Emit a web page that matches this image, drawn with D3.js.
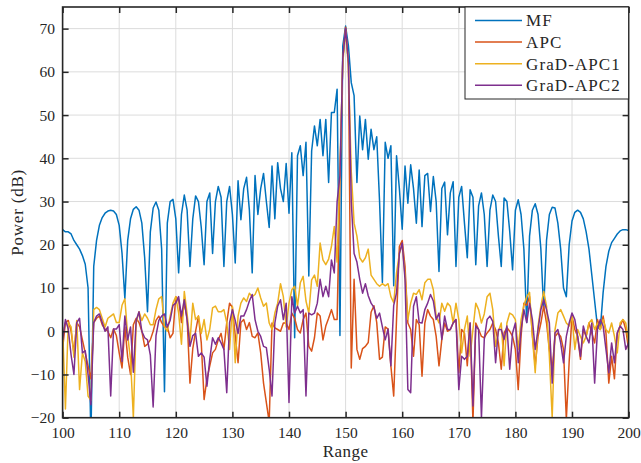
<!DOCTYPE html>
<html>
<head>
<meta charset="utf-8">
<script src="https://cdn.jsdelivr.net/npm/d3@7"></script>
<style>
  body { margin: 0; background: #fff; }
  svg { display: block; font-family: "Liberation Serif", "Times New Roman", serif; }
</style>
</head>
<body>
<div id="chart"></div>
<script>
// range axis is sampled every 0.5 from 100 to 200
const rangeStart = 100;
const rangeStep = 0.5;

const mf = [
  23.5, 23, 23, 22.5, 21, 20, 19, 17.5, 15.5, 10,
  -25, 15, 21, 24.5, 26.3, 27.3, 27.8, 28, 27.8, 27,
  24.5, 18, 7.5, 21, 26, 28.2, 28.8, 28, 25, 17,
  4.5, 23, 28.5, 29.9, 28, 19, -14, 25, 30, 30.5,
  26, 13.5, 27, 31.5, 28, 15, 26, 31.3, 30, 24,
  15.4, 30, 32, 18, 30, 33.5, 31, 15, 30, 33.5,
  27, 15.8, 34.8, 25.8, 33, 35.6, 28, 13.5, 36, 27,
  33, 36.5, 30, 24, 38.2, 26, 39, 33, 30, 38.8,
  27.3, 41.3, -1.5, 40.6, 42.9, 36, 43.7, 12.8, 41.7, 47.5,
  42.9, 49, 40.6, 49, 34.4, 50.6, 50.6, 56, -1, 66,
  70.6, 66, 57.5, 54.5, 34.4, 49.8, 42, 49, 39.8, 46.7,
  42, 45, 30, 11.3, 43.7, 40, 42.9, 10.5, 40.6, 33,
  23.6, 38.2, 29.6, 38.5, 33, 25, 37.3, 24.2, 36, 36.5,
  27.7, 35.8, 30, 13.8, 33, 34.5, 22.3, 32, 34.6, 15,
  31, 33.5, 25, 17, 32.7, 31, 15.4, 29, 32, 27,
  15, 28, 31.5, 30, 22, 15, 30.8, 30, 23, 14.2,
  28, 30.4, 27, 19, 2, 22, 28, 29.5, 27, 19,
  5, 21, 27, 28.7, 28.5, 25, 19, 10, 8, 20,
  25.5, 27.5, 28, 27.5, 26, 23, 19, 13, 7, 1,
  0.5, 9, 15, 18.5, 20.5, 21.5, 22.5, 23.2, 23.5, 23.5,
  23.3
];

const apc = [
  -4, 2, 2.5, 0, -5, 2, 1, -2, -5, -8,
  -11, 2, 3, 3.5, 1.5, 0.5, 0, -1.5, 0.5, -1,
  -5, -8.5, 1, -6, -10, 1.5, 3, 2, 0, -3.5,
  -3, -2, 0, 2.5, 3.5, 2, 1, 1, -1.5, -0.5,
  8, 7.3, 2, 6.5, 3, -12, -4, 0, 3.5, -2.7,
  -15.8, -11, -8, -5, -4.2, -2, -0.5, -4.2, 2, 6.5,
  5.5, -1, -7.3, 2, 2.7, 0.4, 2, -1.2, -1.5, -0.4,
  -5, -12, -16.5, -21, 1.9, 0.8, 0.4, 0, 1.9, 1.9,
  0.4, 4.2, 3, 0.4, -0.4, 2.7, 4.2, -3.5, -4.6, -1.5,
  4.2, 3.5, -2, 1.2, 3, 5, 2.7, 2.7, 35, 63,
  70.3, 62, -8.5, 12, -4.2, -6.5, -4, -3.5, -2.6, 4.4,
  5.9, 2, -6.5, -6, 1, 0.5, -8, -15, 2.8, 19.6,
  21, 15, 1.9, 0.4, -5.8, 2.7, 1.5, -10.4, 1.9, 5,
  3.5, 2.7, -1.2, -8, -1.9, 1.9, 0, 0.4, 1.9, 2.7,
  -9.6, 0.4, -0.4, -8, 1.9, -21, 1.9, 0.4, -1.2, -1.5,
  -0.4, 0.4, 1.9, 0.4, -2.7, -8.8, -0.4, 0.8, 0, -1.2,
  -4.2, -13.5, -1.2, 6.5, 6, 8, -0.8, -8, -1.2, 1.9,
  5.8, 1.9, -4.2, -8.8, -1.2, -0.4, -1.2, -4.2, -20.4, -7,
  3.5, 0.4, -1.2, -6.5, 0.4, -1.2, 1.9, -0.4, -2.7, 2.7,
  0.4, 3.5, -0.4, -12, -5.8, -11, -0.4, 1.2, 2.7, 0.4,
  -4.2
];

const gradApc1 = [
  1, -18, 2, 1, -6, 2.5, -13.5, -5, -7, -15,
  -16, 5, 5.5, 5, 3, 1, 3, 3.5, 4, 2,
  2, 6, 7.5, -1, -6.5, -20, 2, 4.5, 2.5, 4,
  3, 1.5, 1.5, 5, 7.5, 8, 1, 0, 3.5, 6.5,
  8, 4.2, -3, 9.2, 4, -2.5, 6.5, 2.7, 3.5, -0.5,
  2.7, -2, 0.5, 5.4, 5.8, 4.5, 4.5, 5, 2, -4.2,
  5.8, -7.3, 3.5, 6.5, 7.7, 6.9, 8.8, 8, 8.5, 10,
  7.7, 5.8, 6.5, 1.9, 0.4, 4.2, 6.5, 11, 8, 1,
  6.5, 9.6, 10.4, 5.8, 11.2, 12.7, 7, 4.2, 11.9, 13,
  10.4, 20.4, 16.5, 15.4, 16.7, 19.6, 24.2, 16, 38, 62,
  69.5, 61, 37, 25, 22, 17, 16, 17, 19, 13,
  12, 11, 10.4, 11, 10.5, 11, 8, 6.6, 13.5, 18,
  20, 13, 2.7, 6.5, 8.8, 8.5, 9.6, 7.3, 11.2, 12,
  12, 9.6, 3.5, 1.9, 6.5, 4.6, 6.5, 5.8, 1.9, 6.5,
  2.7, -5, 0.4, 3.5, -5.8, 0.4, 6.5, 5, 1.9, 4,
  8, 8.8, 5, -3.5, 0, 1.9, -8, 1.9, 4.2, 3.8,
  2.7, -4.2, 2.7, 6, 8, 9, -1.2, -9.6, 1.2, 5.8,
  9.2, 5.8, -5.8, -20, 0.4, 4.2, 5, 3.5, 1.9, 1.2,
  3.5, -4.2, 0.4, -1.2, -2.7, -1.2, 1.9, 2.7, 0.4, 1.9,
  0.4, 2.7, 0.4, -0.4, 1.9, -1.2, -5, 1.9, 2.7, 1.9,
  -2.7
];

const gradApc2 = [
  -2, 2.7, 0.5, -5.5, -10, 2, 3, -5, -4.5, -10,
  -17, 2, 3.5, 4, 2, 0, 1, -15, 0.5, 0.5,
  1.5, -7, 3.5, -2, 1, -9.5, 2.5, 4.5, 0, -1.5,
  -2, -5.5, -17.5, -1, 2.5, 3.5, 4, 1, 2.5, 6,
  6.5, 8, 3.5, 7.3, 2.5, -3.5, -1, -0.5, -5.8, -5,
  -6, -12.7, -6.5, -1.5, -3, -1.5, -2.7, -4.2, -14.2, 2,
  5, 2.5, -0.5, 3.5, 3.5, 5, 7, 8.5, 2.7, 0,
  -1.2, -3.5, -3.8, -8.8, -15, 1.9, 5.8, 7.3, 2.7, 6.5,
  -16.5, 8, 4.2, 5.8, 4.2, 5, -15, 4.2, 3.8, 4.2,
  6.5, 12, 8, 10.4, 8, 16.5, 13.5, 30, 36, 63,
  70, 62, 30, 18, 16, 12, 8.8, 11, 8.2, 6.5,
  5.5, 3, 4.2, 1, -2, 0.5, -8, 6, 8.9, 18,
  20.4, 12, -13.5, -14.2, 5.8, 8, 2, 1.9, 5, 6.5,
  8.5, 7, 2.7, 4.2, -1.9, 3.5, 0.4, 0.4, 1.9, 2.7,
  -13.5, -5.8, -6.5, -5.8, 1.9, -17.3, 1.2, 0.4, -20, -1.9,
  2.7, 3.5, 2.3, -7.3, 0.4, 0.4, -1.9, 1.2, -8.8, -0.4,
  1.9, -7.3, 0.4, 5, 2, 6.5, 2.7, -4.2, 0.4, 5,
  7.3, 5, 1.9, -12, -0.4, 0.4, -2.7, -7.3, -1.2, 1.9,
  4.2, 2.7, -1.2, -5.8, 1.2, -1.2, -2.7, 1.9, -12, 0.4,
  2.7, 1.2, -4.2, -9.6, -2.7, -7.3, -0.4, 1.2, 0.4, -4.2,
  -2.7
];

const seriesNames = ['MF', 'APC', 'GraD-APC1', 'GraD-APC2'];
const seriesColors = ['#0072BD', '#D95319', '#EDB120', '#7E2F8E'];
const xTicks = [100, 110, 120, 130, 140, 150, 160, 170, 180, 190, 200];
const yTicks = [-20, -10, 0, 10, 20, 30, 40, 50, 60, 70];

const width = 641;
const height = 463;
const margin = { top: 7, right: 12.4, bottom: 45.3, left: 62.6 };
const axisColor = '#262626';

const svg = d3.select('#chart')
  .append('svg')
  .attr('width', width)
  .attr('height', height);

const x = d3.scaleLinear().domain([100, 200]).range([margin.left, width - margin.right]);
const y = d3.scaleLinear().domain([-20, 75]).range([height - margin.bottom, margin.top]);

// gridlines
const grid = svg.append('g').attr('stroke', '#dcdcdc').attr('stroke-width', 1);
grid.selectAll('.gx').data(xTicks).join('line')
  .attr('x1', (d) => x(d)).attr('x2', (d) => x(d))
  .attr('y1', y.range()[0]).attr('y2', y.range()[1]);
grid.selectAll('.gy').data(yTicks).join('line')
  .attr('x1', x.range()[0]).attr('x2', x.range()[1])
  .attr('y1', (d) => y(d)).attr('y2', (d) => y(d));

svg.append('clipPath').attr('id', 'plot-clip')
  .append('rect')
  .attr('x', x.range()[0]).attr('y', y.range()[1])
  .attr('width', x.range()[1] - x.range()[0])
  .attr('height', y.range()[0] - y.range()[1]);

const allSeries = [mf, apc, gradApc1, gradApc2];
const line = d3.line()
  .x((d, i) => x(rangeStart + i * rangeStep))
  .y((d) => y(d));

svg.append('g').attr('clip-path', 'url(#plot-clip)')
  .selectAll('path')
  .data(allSeries)
  .join('path')
  .attr('fill', 'none')
  .attr('stroke', (d, i) => seriesColors[i])
  .attr('stroke-width', 1.5)
  .attr('stroke-linejoin', 'round')
  .attr('d', line);

// axes, ticks pointing inward on all four sides
const styleAxis = (g) => {
  g.select('.domain').remove();
  g.selectAll('.tick line').attr('stroke', axisColor).attr('stroke-width', 1.5);
  g.selectAll('.tick text').attr('fill', axisColor).attr('font-size', '15.5px')
    .attr('font-family', '"Liberation Serif", serif');
};

svg.append('g')
  .attr('transform', `translate(0,${y.range()[0]})`)
  .call(d3.axisBottom(x).tickValues(xTicks).tickSizeInner(-6).tickSizeOuter(0).tickPadding(9.5))
  .call(styleAxis);
svg.append('g')
  .attr('transform', `translate(0,${y.range()[1]})`)
  .call(d3.axisTop(x).tickValues(xTicks).tickSizeInner(-6).tickSizeOuter(0).tickFormat(''))
  .call(styleAxis);
svg.append('g')
  .attr('transform', `translate(${x.range()[0]},0)`)
  .call(d3.axisLeft(y).tickValues(yTicks).tickSizeInner(-6).tickSizeOuter(0).tickPadding(7.5))
  .call(styleAxis);
svg.append('g')
  .attr('transform', `translate(${x.range()[1]},0)`)
  .call(d3.axisRight(y).tickValues(yTicks).tickSizeInner(-6).tickSizeOuter(0).tickFormat(''))
  .call(styleAxis);

svg.append('rect')
  .attr('x', x.range()[0]).attr('y', y.range()[1])
  .attr('width', x.range()[1] - x.range()[0])
  .attr('height', y.range()[0] - y.range()[1])
  .attr('fill', 'none')
  .attr('stroke', axisColor)
  .attr('stroke-width', 1.6);

// axis labels
svg.append('text')
  .attr('x', (x.range()[0] + x.range()[1]) / 2)
  .attr('y', 457)
  .attr('text-anchor', 'middle')
  .attr('font-size', '17px')
  .attr('letter-spacing', '0.5px')
  .attr('fill', axisColor)
  .text('Range');

svg.append('text')
  .attr('transform', `translate(23,${(y.range()[0] + y.range()[1]) / 2}) rotate(-90)`)
  .attr('text-anchor', 'middle')
  .attr('font-size', '17px')
  .attr('letter-spacing', '0.8px')
  .attr('fill', axisColor)
  .text('Power (dB)');

// legend
const legend = svg.append('g');
legend.append('rect')
  .attr('x', 465).attr('y', 7)
  .attr('width', x.range()[1] - 465).attr('height', 92)
  .attr('fill', '#fff')
  .attr('stroke', axisColor)
  .attr('stroke-width', 1);

const legendRows = legend.selectAll('g.row')
  .data(seriesNames)
  .join('g')
  .attr('transform', (d, i) => `translate(0,${20.5 + i * 21.6})`);
legendRows.append('line')
  .attr('x1', 475).attr('x2', 522)
  .attr('stroke', (d, i) => seriesColors[i])
  .attr('stroke-width', 1.5);
legendRows.append('text')
  .attr('x', 526)
  .attr('dy', '0.35em')
  .attr('font-size', '17px')
  .attr('letter-spacing', '1.1px')
  .attr('fill', axisColor)
  .text((d) => d);
</script>
</body>
</html>
